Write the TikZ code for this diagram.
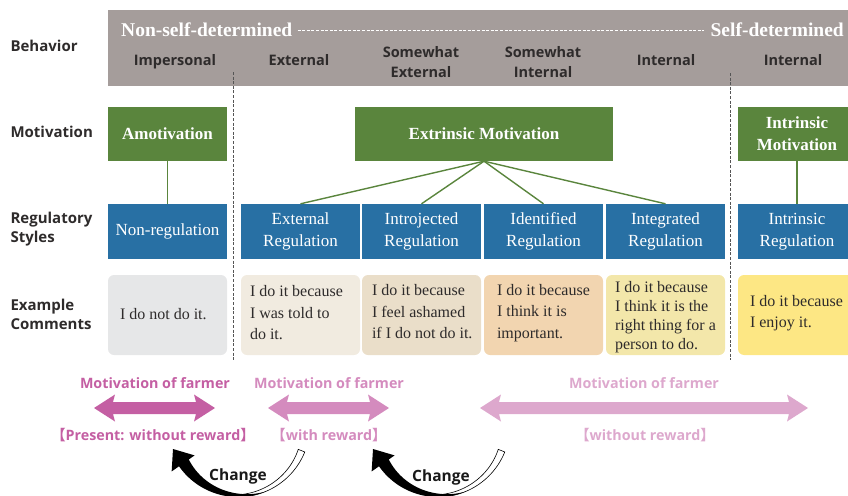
\documentclass[tikz,border=0pt]{standalone}
\usepackage{fontspec}
\setmainfont{Liberation Serif}
\newfontfamily\labfont{Open Sans}
\newfontfamily\cjk{Noto Sans CJK SC}
\definecolor{bandgray}{HTML}{A59D9B}
\definecolor{hdrtext}{HTML}{2E2B2B}
\definecolor{mgreen}{HTML}{5A853D}
\definecolor{rblue}{HTML}{2870A4}
\definecolor{cgray}{HTML}{E6E7E8}
\definecolor{cbeige}{HTML}{F1EBE0}
\definecolor{ctan}{HTML}{EADEC9}
\definecolor{corange}{HTML}{F2D5B0}
\definecolor{cpale}{HTML}{F3E7AA}
\definecolor{cyellow}{HTML}{FDE784}
\definecolor{pinkA}{HTML}{C45FA3}
\definecolor{pinkB}{HTML}{D48BBE}
\definecolor{pinkC}{HTML}{DDA8CD}
\definecolor{divider}{HTML}{555555}

\tikzset{
  rowlab/.style={anchor=west, align=left, text=hdrtext,
    font=\labfont\bfseries\fontsize{15}{19}\selectfont},
  subhdr/.style={align=center, text=hdrtext,
    font=\labfont\bfseries\fontsize{14.5}{20}\selectfont},
  toptitle/.style={text=white, inner sep=0,
    font=\bfseries\fontsize{19.5}{22}\selectfont},
  motbox/.style={fill=mgreen, text=white, minimum height=54, inner sep=0,
    align=center, font=\bfseries\fontsize{17}{22}\selectfont},
  regbox/.style={fill=rblue, text=white, minimum height=55, inner sep=0,
    align=center, minimum width=119, font=\fontsize{17}{22}\selectfont},
  combox/.style={rounded corners=6, minimum height=80, minimum width=119, inner sep=0},
  comtext/.style={anchor=west, align=left, inner sep=0, text=hdrtext,
    font=\fontsize{16}{21.5}\selectfont},
  link/.style={draw=mgreen, line width=1.4},
  divline/.style={draw=divider, line width=1, dash pattern=on 3 off 1.6},
  farmlab/.style={font=\labfont\bfseries\fontsize{14.3}{17}\selectfont},
  changelab/.style={font=\labfont\bfseries\fontsize{15.5}{18}\selectfont, text=black!90},
}

% double-headed block arrow: left tip x, right tip x, centre y, colour
\newcommand\farmarrow[4]{%
  \fill[#4] (#1,#3) -- ({#1+21},{#3-13.5}) -- ({#1+19},{#3-6}) -- ({#2-19},{#3-6})
    -- ({#2-21},{#3-13.5}) -- (#2,#3) -- ({#2-21},{#3+13.5}) -- ({#2-19},{#3+6})
    -- ({#1+19},{#3+6}) -- ({#1+21},{#3+13.5}) -- cycle;}

% curved "change" arrow around a centre point: open band on the right, solid head on the left
\newcommand\changearrow[1]{%
  \begin{scope}[shift={#1}]
    \filldraw[fill=white, draw=black, line width=0.6]
      plot[domain=22:92, samples=40] (\x:72)
      -- plot[domain=92:22, samples=40] (\x:{65+(\x-22)*0.07}) -- cycle;
    \fill[black]
      plot[domain=68:145, samples=50] (\x:72)
      -- (145:81) -- (-65,24) -- (145:53)
      -- plot[domain=145:68, samples=50] (\x:{72-(\x-68)*0.155}) -- cycle;
  \end{scope}}

\begin{document}
\begin{tikzpicture}[x=1pt, y=-1pt]
  \useasboundingbox (0,0) rectangle (848,495);
  \clip (0,0) rectangle (848,495);

  % header band
  \fill[bandgray] (108,10) rectangle (860,86);
  \node[toptitle, anchor=west] (nsd) at (121,30) {Non-self-determined};
  \node[toptitle, anchor=east] (sd) at (844,30) {Self-determined};
  \draw[white, line width=0.9, dash pattern=on 3 off 1.6]
    ([xshift=5pt]nsd.east) -- ([xshift=-6pt]sd.west);

  \node[subhdr] (hImp) at (175,62) {Impersonal};
  \node[subhdr] (hExt) at (299,60) {External};
  \node[subhdr] (hSE)  at (421,62.5) {Somewhat\\External};
  \node[subhdr] (hSI)  at (543,62.5) {Somewhat\\Internal};
  \node[subhdr] (hInt) at (666,60) {Internal};
  \node[subhdr] (hInt2) at (793,60) {Internal};

  % row labels
  \node[rowlab] (lBeh) at (7,46) {Behavior};
  \node[rowlab] (lMot) at (7,132) {Motivation};
  \node[rowlab] (lReg) at (7,229) {Regulatory\\Styles};
  \node[rowlab] (lCom) at (7,314) {Example\\Comments};

  % dividers
  \coordinate (d1t) at (233,72);
  \coordinate (d1b) at (233,360);
  \coordinate (d2t) at (730,73);
  \coordinate (d2b) at (730,360);
  \draw[divline] (d1t) -- (d1b);
  \draw[divline] (d2t) -- (d2b);

  % motivation boxes
  \node[motbox, minimum width=119] (amot) at (167.5,134) {Amotivation};
  \node[motbox, minimum width=258] (extr) at (484,134) {Extrinsic Motivation};
  \node[motbox, minimum width=118] (intr) at (797,134) {Intrinsic\\Motivation};

  % regulatory styles
  \node[regbox] (nonreg) at (167.5,231.5) {Non-regulation};
  \node[regbox] (extreg) at (300.5,231.5) {External\\Regulation};
  \node[regbox] (intro)  at (421.5,231.5) {Introjected\\Regulation};
  \node[regbox] (ident)  at (543.5,231.5) {Identified\\Regulation};
  \node[regbox] (integ)  at (665.5,231.5) {Integrated\\Regulation};
  \node[regbox, minimum width=118] (intreg) at (797,231.5) {Intrinsic\\Regulation};

  \draw[link] (amot.south) -- (nonreg.north);
  \draw[link] (intr.south) -- (intreg.north);
  \foreach \r in {extreg,intro,ident,integ}
    \draw[link] (extr.south) -- (\r.north);

  % example comments
  \node[combox, fill=cgray]   (c1) at (167.5,315) {};
  \node[combox, fill=cbeige]  (c2) at (300.5,315) {};
  \node[combox, fill=ctan]    (c3) at (421.5,315) {};
  \node[combox, fill=corange] (c4) at (543.5,315) {};
  \node[combox, fill=cpale]   (c5) at (665.5,315) {};
  \node[combox, fill=cyellow, minimum width=118] (c6) at (797,315) {};

  \node[comtext] (t1) at ([xshift=12pt,yshift=1pt]c1.west) {I do not do it.};
  \node[comtext] (t2) at ([xshift=9pt,yshift=2pt]c2.west) {I do it because\\I was told to\\do it.};
  \node[comtext] (t3) at ([xshift=10pt,yshift=3pt]c3.west) {I do it because\\I feel ashamed\\if I do not do it.};
  \node[comtext] (t4) at ([xshift=13pt,yshift=2pt]c4.west) {I do it because\\I think it is\\important.};
  \node[comtext, font=\fontsize{16}{19}\selectfont] (t5) at ([xshift=9pt,yshift=-2pt]c5.west) {I do it because\\I think it is the\\right thing for a\\person to do.};
  \node[comtext] (t6) at ([xshift=12pt,yshift=2pt]c6.west) {I do it because\\I enjoy it.};

  % farmer motivation arrows
  \farmarrow{94}{215}{408}{pinkA}
  \farmarrow{268}{389}{408}{pinkB}
  \farmarrow{480}{808}{408}{pinkC}

  \node[farmlab, text=pinkA] (f1) at (155,383) {Motivation of farmer};
  \node[farmlab, text=pinkB] (f2) at (329,383) {Motivation of farmer};
  \node[farmlab, text=pinkC] (f3) at (644,383) {Motivation of farmer};
  \node[farmlab, text=pinkA] (r1) at (153,435) {{\cjk 【}Present: without reward{\cjk 】}};
  \node[farmlab, text=pinkB] (r2) at (329,435) {{\cjk 【}with reward{\cjk 】}};
  \node[farmlab, text=pinkC] (r3) at (645,435) {{\cjk 【}without reward{\cjk 】}};

  % change arrows
  \changearrow{(238,425)}
  \changearrow{(438,425)}
  \node[changelab] (ch1) at (238,476) {Change};
  \node[changelab] (ch2) at (441,477) {Change};
\end{tikzpicture}
\end{document}
